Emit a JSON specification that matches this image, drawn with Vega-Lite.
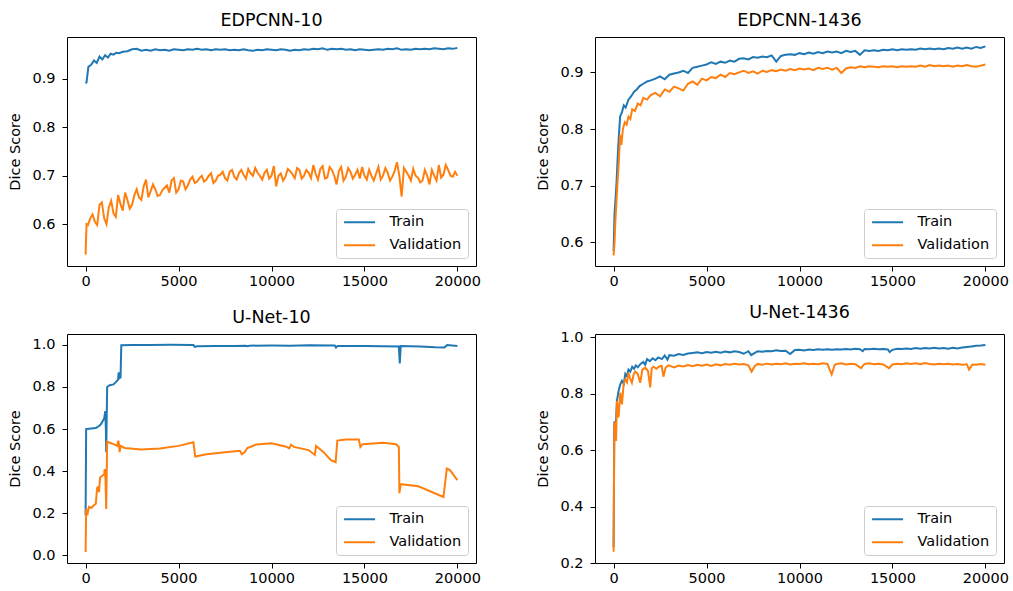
{
"$schema":"https://vega.github.io/schema/vega-lite/v6.json",
"padding":{"left":7,"top":11,"right":5,"bottom":5},
"columns":2,
"spacing":{"row":68,"column":119},
"bounds":"flush",
"resolve":{"scale":{"color":"independent"},"legend":{"color":"independent"}},
"datasets":{
"p1":[
{"step":0,"set":"Train","dice":0.891},{"step":50,"set":"Train","dice":0.893},{"step":150,"set":"Train","dice":0.925},{"step":300,"set":"Train","dice":0.929},{"step":450,"set":"Train","dice":0.938},{"step":600,"set":"Train","dice":0.933},{"step":750,"set":"Train","dice":0.946},{"step":900,"set":"Train","dice":0.940},{"step":1050,"set":"Train","dice":0.949},{"step":1200,"set":"Train","dice":0.944},{"step":1350,"set":"Train","dice":0.952},{"step":1500,"set":"Train","dice":0.950},{"step":1650,"set":"Train","dice":0.954},{"step":1800,"set":"Train","dice":0.953},{"step":2000,"set":"Train","dice":0.956},{"step":2250,"set":"Train","dice":0.957},{"step":2500,"set":"Train","dice":0.961},{"step":2750,"set":"Train","dice":0.962},{"step":3000,"set":"Train","dice":0.958},{"step":3250,"set":"Train","dice":0.960},{"step":3500,"set":"Train","dice":0.958},{"step":3750,"set":"Train","dice":0.961},{"step":4000,"set":"Train","dice":0.959},{"step":4250,"set":"Train","dice":0.960},{"step":4500,"set":"Train","dice":0.958},{"step":4750,"set":"Train","dice":0.961},{"step":5000,"set":"Train","dice":0.960},{"step":5250,"set":"Train","dice":0.959},{"step":5500,"set":"Train","dice":0.961},{"step":5750,"set":"Train","dice":0.960},{"step":6000,"set":"Train","dice":0.962},{"step":6250,"set":"Train","dice":0.960},{"step":6500,"set":"Train","dice":0.961},{"step":6750,"set":"Train","dice":0.959},{"step":7000,"set":"Train","dice":0.961},{"step":7250,"set":"Train","dice":0.960},{"step":7500,"set":"Train","dice":0.961},{"step":7750,"set":"Train","dice":0.959},{"step":8000,"set":"Train","dice":0.960},{"step":8250,"set":"Train","dice":0.959},{"step":8500,"set":"Train","dice":0.961},{"step":8750,"set":"Train","dice":0.959},{"step":9000,"set":"Train","dice":0.958},{"step":9250,"set":"Train","dice":0.960},{"step":9500,"set":"Train","dice":0.959},{"step":9750,"set":"Train","dice":0.961},{"step":10000,"set":"Train","dice":0.960},{"step":10250,"set":"Train","dice":0.959},{"step":10500,"set":"Train","dice":0.961},{"step":10750,"set":"Train","dice":0.960},{"step":11000,"set":"Train","dice":0.958},{"step":11250,"set":"Train","dice":0.960},{"step":11500,"set":"Train","dice":0.959},{"step":11750,"set":"Train","dice":0.961},{"step":12000,"set":"Train","dice":0.960},{"step":12250,"set":"Train","dice":0.962},{"step":12500,"set":"Train","dice":0.961},{"step":12750,"set":"Train","dice":0.963},{"step":13000,"set":"Train","dice":0.960},{"step":13250,"set":"Train","dice":0.962},{"step":13500,"set":"Train","dice":0.961},{"step":13750,"set":"Train","dice":0.962},{"step":14000,"set":"Train","dice":0.960},{"step":14250,"set":"Train","dice":0.961},{"step":14500,"set":"Train","dice":0.959},{"step":14750,"set":"Train","dice":0.961},{"step":15000,"set":"Train","dice":0.960},{"step":15250,"set":"Train","dice":0.959},{"step":15500,"set":"Train","dice":0.960},{"step":15750,"set":"Train","dice":0.961},{"step":16000,"set":"Train","dice":0.960},{"step":16250,"set":"Train","dice":0.962},{"step":16500,"set":"Train","dice":0.961},{"step":16750,"set":"Train","dice":0.963},{"step":17000,"set":"Train","dice":0.960},{"step":17250,"set":"Train","dice":0.961},{"step":17500,"set":"Train","dice":0.960},{"step":17750,"set":"Train","dice":0.962},{"step":18000,"set":"Train","dice":0.961},{"step":18250,"set":"Train","dice":0.962},{"step":18500,"set":"Train","dice":0.961},{"step":18750,"set":"Train","dice":0.963},{"step":19000,"set":"Train","dice":0.962},{"step":19250,"set":"Train","dice":0.961},{"step":19500,"set":"Train","dice":0.963},{"step":19750,"set":"Train","dice":0.962},{"step":20000,"set":"Train","dice":0.964},
{"step":0,"set":"Validation","dice":0.537},{"step":50,"set":"Validation","dice":0.600},{"step":250,"set":"Validation","dice":0.612},{"step":500,"set":"Validation","dice":0.605},{"step":750,"set":"Validation","dice":0.640},{"step":1000,"set":"Validation","dice":0.612},{"step":1250,"set":"Validation","dice":0.635},{"step":1500,"set":"Validation","dice":0.622},{"step":1750,"set":"Validation","dice":0.660},{"step":2000,"set":"Validation","dice":0.628},{"step":2250,"set":"Validation","dice":0.650},{"step":2500,"set":"Validation","dice":0.640},{"step":2750,"set":"Validation","dice":0.672},{"step":3000,"set":"Validation","dice":0.650},{"step":3250,"set":"Validation","dice":0.692},{"step":3500,"set":"Validation","dice":0.668},{"step":3750,"set":"Validation","dice":0.672},{"step":4000,"set":"Validation","dice":0.660},{"step":4250,"set":"Validation","dice":0.675},{"step":4500,"set":"Validation","dice":0.665},{"step":4750,"set":"Validation","dice":0.695},{"step":5000,"set":"Validation","dice":0.672},{"step":5250,"set":"Validation","dice":0.688},{"step":5500,"set":"Validation","dice":0.680},{"step":5750,"set":"Validation","dice":0.698},{"step":6000,"set":"Validation","dice":0.688},{"step":6250,"set":"Validation","dice":0.700},{"step":6500,"set":"Validation","dice":0.692},{"step":6750,"set":"Validation","dice":0.705},{"step":7000,"set":"Validation","dice":0.690},{"step":7250,"set":"Validation","dice":0.702},{"step":7500,"set":"Validation","dice":0.695},{"step":7750,"set":"Validation","dice":0.708},{"step":8000,"set":"Validation","dice":0.698},{"step":8250,"set":"Validation","dice":0.705},{"step":8500,"set":"Validation","dice":0.702},{"step":8750,"set":"Validation","dice":0.714},{"step":9000,"set":"Validation","dice":0.700},{"step":9250,"set":"Validation","dice":0.706},{"step":9500,"set":"Validation","dice":0.692},{"step":9750,"set":"Validation","dice":0.712},{"step":10000,"set":"Validation","dice":0.700},{"step":10250,"set":"Validation","dice":0.678},{"step":10500,"set":"Validation","dice":0.705},{"step":10750,"set":"Validation","dice":0.698},{"step":11000,"set":"Validation","dice":0.710},{"step":11250,"set":"Validation","dice":0.695},{"step":11500,"set":"Validation","dice":0.712},{"step":11750,"set":"Validation","dice":0.700},{"step":12000,"set":"Validation","dice":0.706},{"step":12250,"set":"Validation","dice":0.722},{"step":12500,"set":"Validation","dice":0.692},{"step":12750,"set":"Validation","dice":0.720},{"step":13000,"set":"Validation","dice":0.696},{"step":13250,"set":"Validation","dice":0.712},{"step":13500,"set":"Validation","dice":0.682},{"step":13750,"set":"Validation","dice":0.718},{"step":14000,"set":"Validation","dice":0.698},{"step":14250,"set":"Validation","dice":0.708},{"step":14500,"set":"Validation","dice":0.702},{"step":14750,"set":"Validation","dice":0.694},{"step":15000,"set":"Validation","dice":0.700},{"step":15250,"set":"Validation","dice":0.712},{"step":15500,"set":"Validation","dice":0.690},{"step":15750,"set":"Validation","dice":0.718},{"step":16000,"set":"Validation","dice":0.700},{"step":16250,"set":"Validation","dice":0.706},{"step":16500,"set":"Validation","dice":0.698},{"step":16750,"set":"Validation","dice":0.728},{"step":17000,"set":"Validation","dice":0.657},{"step":17250,"set":"Validation","dice":0.708},{"step":17500,"set":"Validation","dice":0.690},{"step":17750,"set":"Validation","dice":0.700},{"step":18000,"set":"Validation","dice":0.686},{"step":18250,"set":"Validation","dice":0.712},{"step":18500,"set":"Validation","dice":0.682},{"step":18750,"set":"Validation","dice":0.700},{"step":19000,"set":"Validation","dice":0.722},{"step":19250,"set":"Validation","dice":0.702},{"step":19500,"set":"Validation","dice":0.712},{"step":19750,"set":"Validation","dice":0.698},{"step":20000,"set":"Validation","dice":0.700},
{"step":125,"set":"Validation","dice":0.598},{"step":375,"set":"Validation","dice":0.620},{"step":625,"set":"Validation","dice":0.598},{"step":875,"set":"Validation","dice":0.645},{"step":1125,"set":"Validation","dice":0.600},{"step":1375,"set":"Validation","dice":0.648},{"step":1625,"set":"Validation","dice":0.615},{"step":1875,"set":"Validation","dice":0.642},{"step":2125,"set":"Validation","dice":0.665},{"step":2375,"set":"Validation","dice":0.632},{"step":2625,"set":"Validation","dice":0.660},{"step":2875,"set":"Validation","dice":0.655},{"step":3125,"set":"Validation","dice":0.678},{"step":3375,"set":"Validation","dice":0.655},{"step":3625,"set":"Validation","dice":0.682},{"step":3875,"set":"Validation","dice":0.658},{"step":4125,"set":"Validation","dice":0.670},{"step":4375,"set":"Validation","dice":0.680},{"step":4625,"set":"Validation","dice":0.690},{"step":4875,"set":"Validation","dice":0.665},{"step":5125,"set":"Validation","dice":0.690},{"step":5375,"set":"Validation","dice":0.672},{"step":5625,"set":"Validation","dice":0.692},{"step":5875,"set":"Validation","dice":0.685},{"step":6125,"set":"Validation","dice":0.695},{"step":6375,"set":"Validation","dice":0.688},{"step":6625,"set":"Validation","dice":0.700},{"step":6875,"set":"Validation","dice":0.685},{"step":7125,"set":"Validation","dice":0.700},{"step":7375,"set":"Validation","dice":0.708},{"step":7625,"set":"Validation","dice":0.690},{"step":7875,"set":"Validation","dice":0.712},{"step":8125,"set":"Validation","dice":0.692},{"step":8375,"set":"Validation","dice":0.712},{"step":8625,"set":"Validation","dice":0.694},{"step":8875,"set":"Validation","dice":0.705},{"step":9125,"set":"Validation","dice":0.716},{"step":9375,"set":"Validation","dice":0.700},{"step":9625,"set":"Validation","dice":0.706},{"step":9875,"set":"Validation","dice":0.694},{"step":10125,"set":"Validation","dice":0.720},{"step":10375,"set":"Validation","dice":0.700},{"step":10625,"set":"Validation","dice":0.690},{"step":10875,"set":"Validation","dice":0.714},{"step":11125,"set":"Validation","dice":0.703},{"step":11375,"set":"Validation","dice":0.716},{"step":11625,"set":"Validation","dice":0.694},{"step":11875,"set":"Validation","dice":0.712},{"step":12125,"set":"Validation","dice":0.695},{"step":12375,"set":"Validation","dice":0.704},{"step":12625,"set":"Validation","dice":0.714},{"step":12875,"set":"Validation","dice":0.694},{"step":13125,"set":"Validation","dice":0.718},{"step":13375,"set":"Validation","dice":0.700},{"step":13625,"set":"Validation","dice":0.710},{"step":13875,"set":"Validation","dice":0.690},{"step":14125,"set":"Validation","dice":0.716},{"step":14375,"set":"Validation","dice":0.694},{"step":14625,"set":"Validation","dice":0.712},{"step":14875,"set":"Validation","dice":0.718},{"step":15125,"set":"Validation","dice":0.692},{"step":15375,"set":"Validation","dice":0.700},{"step":15625,"set":"Validation","dice":0.704},{"step":15875,"set":"Validation","dice":0.692},{"step":16125,"set":"Validation","dice":0.716},{"step":16375,"set":"Validation","dice":0.690},{"step":16625,"set":"Validation","dice":0.710},{"step":16875,"set":"Validation","dice":0.700},{"step":17125,"set":"Validation","dice":0.716},{"step":17375,"set":"Validation","dice":0.700},{"step":17625,"set":"Validation","dice":0.714},{"step":17875,"set":"Validation","dice":0.696},{"step":18125,"set":"Validation","dice":0.690},{"step":18375,"set":"Validation","dice":0.700},{"step":18625,"set":"Validation","dice":0.712},{"step":18875,"set":"Validation","dice":0.690},{"step":19125,"set":"Validation","dice":0.696},{"step":19375,"set":"Validation","dice":0.722},{"step":19625,"set":"Validation","dice":0.700},{"step":19875,"set":"Validation","dice":0.708}
],
"p2":[
{"step":0,"set":"Train","dice":0.585},{"step":50,"set":"Train","dice":0.650},{"step":150,"set":"Train","dice":0.700},{"step":250,"set":"Train","dice":0.770},{"step":350,"set":"Train","dice":0.822},{"step":450,"set":"Train","dice":0.830},{"step":550,"set":"Train","dice":0.842},{"step":650,"set":"Train","dice":0.838},{"step":800,"set":"Train","dice":0.852},{"step":950,"set":"Train","dice":0.858},{"step":1100,"set":"Train","dice":0.866},{"step":1250,"set":"Train","dice":0.870},{"step":1400,"set":"Train","dice":0.876},{"step":1600,"set":"Train","dice":0.880},{"step":1800,"set":"Train","dice":0.884},{"step":2000,"set":"Train","dice":0.886},{"step":2250,"set":"Train","dice":0.889},{"step":2500,"set":"Train","dice":0.893},{"step":2750,"set":"Train","dice":0.888},{"step":3000,"set":"Train","dice":0.896},{"step":3250,"set":"Train","dice":0.898},{"step":3500,"set":"Train","dice":0.900},{"step":3750,"set":"Train","dice":0.903},{"step":4000,"set":"Train","dice":0.899},{"step":4250,"set":"Train","dice":0.908},{"step":4500,"set":"Train","dice":0.910},{"step":4750,"set":"Train","dice":0.912},{"step":5000,"set":"Train","dice":0.914},{"step":5250,"set":"Train","dice":0.918},{"step":5500,"set":"Train","dice":0.915},{"step":5750,"set":"Train","dice":0.919},{"step":6000,"set":"Train","dice":0.917},{"step":6250,"set":"Train","dice":0.921},{"step":6500,"set":"Train","dice":0.919},{"step":6750,"set":"Train","dice":0.924},{"step":7000,"set":"Train","dice":0.925},{"step":7250,"set":"Train","dice":0.923},{"step":7500,"set":"Train","dice":0.927},{"step":7750,"set":"Train","dice":0.926},{"step":8000,"set":"Train","dice":0.928},{"step":8250,"set":"Train","dice":0.927},{"step":8500,"set":"Train","dice":0.930},{"step":8750,"set":"Train","dice":0.919},{"step":9000,"set":"Train","dice":0.929},{"step":9250,"set":"Train","dice":0.931},{"step":9500,"set":"Train","dice":0.932},{"step":9750,"set":"Train","dice":0.931},{"step":10000,"set":"Train","dice":0.934},{"step":10250,"set":"Train","dice":0.932},{"step":10500,"set":"Train","dice":0.935},{"step":10750,"set":"Train","dice":0.933},{"step":11000,"set":"Train","dice":0.936},{"step":11250,"set":"Train","dice":0.934},{"step":11500,"set":"Train","dice":0.937},{"step":11750,"set":"Train","dice":0.935},{"step":12000,"set":"Train","dice":0.937},{"step":12250,"set":"Train","dice":0.934},{"step":12500,"set":"Train","dice":0.938},{"step":12750,"set":"Train","dice":0.936},{"step":13000,"set":"Train","dice":0.938},{"step":13250,"set":"Train","dice":0.931},{"step":13500,"set":"Train","dice":0.939},{"step":13750,"set":"Train","dice":0.938},{"step":14000,"set":"Train","dice":0.939},{"step":14250,"set":"Train","dice":0.938},{"step":14500,"set":"Train","dice":0.940},{"step":14750,"set":"Train","dice":0.939},{"step":15000,"set":"Train","dice":0.941},{"step":15250,"set":"Train","dice":0.939},{"step":15500,"set":"Train","dice":0.941},{"step":15750,"set":"Train","dice":0.940},{"step":16000,"set":"Train","dice":0.941},{"step":16250,"set":"Train","dice":0.940},{"step":16500,"set":"Train","dice":0.942},{"step":16750,"set":"Train","dice":0.941},{"step":17000,"set":"Train","dice":0.942},{"step":17250,"set":"Train","dice":0.941},{"step":17500,"set":"Train","dice":0.942},{"step":17750,"set":"Train","dice":0.941},{"step":18000,"set":"Train","dice":0.943},{"step":18250,"set":"Train","dice":0.942},{"step":18500,"set":"Train","dice":0.944},{"step":18750,"set":"Train","dice":0.942},{"step":19000,"set":"Train","dice":0.944},{"step":19250,"set":"Train","dice":0.942},{"step":19500,"set":"Train","dice":0.945},{"step":19750,"set":"Train","dice":0.943},{"step":20000,"set":"Train","dice":0.946},
{"step":0,"set":"Validation","dice":0.577},{"step":50,"set":"Validation","dice":0.600},{"step":100,"set":"Validation","dice":0.640},{"step":200,"set":"Validation","dice":0.700},{"step":280,"set":"Validation","dice":0.742},{"step":350,"set":"Validation","dice":0.790},{"step":420,"set":"Validation","dice":0.772},{"step":500,"set":"Validation","dice":0.800},{"step":600,"set":"Validation","dice":0.812},{"step":700,"set":"Validation","dice":0.808},{"step":800,"set":"Validation","dice":0.822},{"step":900,"set":"Validation","dice":0.818},{"step":1000,"set":"Validation","dice":0.835},{"step":1150,"set":"Validation","dice":0.832},{"step":1300,"set":"Validation","dice":0.845},{"step":1450,"set":"Validation","dice":0.842},{"step":1600,"set":"Validation","dice":0.855},{"step":1800,"set":"Validation","dice":0.852},{"step":2000,"set":"Validation","dice":0.860},{"step":2250,"set":"Validation","dice":0.864},{"step":2500,"set":"Validation","dice":0.858},{"step":2750,"set":"Validation","dice":0.870},{"step":3000,"set":"Validation","dice":0.866},{"step":3250,"set":"Validation","dice":0.875},{"step":3500,"set":"Validation","dice":0.872},{"step":3750,"set":"Validation","dice":0.868},{"step":4000,"set":"Validation","dice":0.880},{"step":4250,"set":"Validation","dice":0.884},{"step":4500,"set":"Validation","dice":0.878},{"step":4750,"set":"Validation","dice":0.889},{"step":5000,"set":"Validation","dice":0.886},{"step":5250,"set":"Validation","dice":0.892},{"step":5500,"set":"Validation","dice":0.890},{"step":5750,"set":"Validation","dice":0.896},{"step":6000,"set":"Validation","dice":0.892},{"step":6250,"set":"Validation","dice":0.899},{"step":6500,"set":"Validation","dice":0.897},{"step":6750,"set":"Validation","dice":0.900},{"step":7000,"set":"Validation","dice":0.903},{"step":7250,"set":"Validation","dice":0.899},{"step":7500,"set":"Validation","dice":0.902},{"step":7750,"set":"Validation","dice":0.898},{"step":8000,"set":"Validation","dice":0.903},{"step":8250,"set":"Validation","dice":0.901},{"step":8500,"set":"Validation","dice":0.904},{"step":8750,"set":"Validation","dice":0.902},{"step":9000,"set":"Validation","dice":0.905},{"step":9250,"set":"Validation","dice":0.903},{"step":9500,"set":"Validation","dice":0.906},{"step":9750,"set":"Validation","dice":0.904},{"step":10000,"set":"Validation","dice":0.907},{"step":10250,"set":"Validation","dice":0.905},{"step":10500,"set":"Validation","dice":0.907},{"step":10750,"set":"Validation","dice":0.904},{"step":11000,"set":"Validation","dice":0.908},{"step":11250,"set":"Validation","dice":0.906},{"step":11500,"set":"Validation","dice":0.908},{"step":11750,"set":"Validation","dice":0.905},{"step":12000,"set":"Validation","dice":0.908},{"step":12250,"set":"Validation","dice":0.899},{"step":12500,"set":"Validation","dice":0.907},{"step":12750,"set":"Validation","dice":0.909},{"step":13000,"set":"Validation","dice":0.908},{"step":13250,"set":"Validation","dice":0.911},{"step":13500,"set":"Validation","dice":0.909},{"step":13750,"set":"Validation","dice":0.911},{"step":14000,"set":"Validation","dice":0.910},{"step":14250,"set":"Validation","dice":0.909},{"step":14500,"set":"Validation","dice":0.911},{"step":14750,"set":"Validation","dice":0.910},{"step":15000,"set":"Validation","dice":0.911},{"step":15250,"set":"Validation","dice":0.909},{"step":15500,"set":"Validation","dice":0.911},{"step":15750,"set":"Validation","dice":0.910},{"step":16000,"set":"Validation","dice":0.911},{"step":16250,"set":"Validation","dice":0.910},{"step":16500,"set":"Validation","dice":0.912},{"step":16750,"set":"Validation","dice":0.910},{"step":17000,"set":"Validation","dice":0.913},{"step":17250,"set":"Validation","dice":0.911},{"step":17500,"set":"Validation","dice":0.912},{"step":17750,"set":"Validation","dice":0.911},{"step":18000,"set":"Validation","dice":0.912},{"step":18250,"set":"Validation","dice":0.910},{"step":18500,"set":"Validation","dice":0.912},{"step":18750,"set":"Validation","dice":0.911},{"step":19000,"set":"Validation","dice":0.913},{"step":19250,"set":"Validation","dice":0.911},{"step":19500,"set":"Validation","dice":0.910},{"step":19750,"set":"Validation","dice":0.912},{"step":20000,"set":"Validation","dice":0.914}
],
"p3":[
{"step":0,"set":"Train","dice":0.19},{"step":30,"set":"Train","dice":0.60},{"step":300,"set":"Train","dice":0.603},{"step":550,"set":"Train","dice":0.605},{"step":700,"set":"Train","dice":0.613},{"step":800,"set":"Train","dice":0.620},{"step":900,"set":"Train","dice":0.635},{"step":1000,"set":"Train","dice":0.650},{"step":1060,"set":"Train","dice":0.685},{"step":1090,"set":"Train","dice":0.60},{"step":1110,"set":"Train","dice":0.49},{"step":1160,"set":"Train","dice":0.80},{"step":1300,"set":"Train","dice":0.808},{"step":1500,"set":"Train","dice":0.812},{"step":1650,"set":"Train","dice":0.825},{"step":1750,"set":"Train","dice":0.835},{"step":1780,"set":"Train","dice":0.87},{"step":1800,"set":"Train","dice":0.84},{"step":1880,"set":"Train","dice":0.845},{"step":1920,"set":"Train","dice":0.998},{"step":2500,"set":"Train","dice":0.999},{"step":3500,"set":"Train","dice":0.999},{"step":4500,"set":"Train","dice":1.0},{"step":5800,"set":"Train","dice":0.999},{"step":5880,"set":"Train","dice":0.99},{"step":6000,"set":"Train","dice":0.993},{"step":7000,"set":"Train","dice":0.994},{"step":8000,"set":"Train","dice":0.995},{"step":8600,"set":"Train","dice":0.996},{"step":8700,"set":"Train","dice":0.993},{"step":8800,"set":"Train","dice":0.996},{"step":10000,"set":"Train","dice":0.997},{"step":11000,"set":"Train","dice":0.996},{"step":12000,"set":"Train","dice":0.998},{"step":13400,"set":"Train","dice":0.997},{"step":13470,"set":"Train","dice":0.987},{"step":13550,"set":"Train","dice":0.995},{"step":15000,"set":"Train","dice":0.994},{"step":16000,"set":"Train","dice":0.993},{"step":16850,"set":"Train","dice":0.992},{"step":16900,"set":"Train","dice":0.912},{"step":16950,"set":"Train","dice":0.994},{"step":18000,"set":"Train","dice":0.992},{"step":18800,"set":"Train","dice":0.988},{"step":19300,"set":"Train","dice":0.987},{"step":19450,"set":"Train","dice":0.999},{"step":20000,"set":"Train","dice":0.995},
{"step":0,"set":"Validation","dice":0.016},{"step":30,"set":"Validation","dice":0.22},{"step":90,"set":"Validation","dice":0.19},{"step":180,"set":"Validation","dice":0.23},{"step":300,"set":"Validation","dice":0.225},{"step":450,"set":"Validation","dice":0.238},{"step":550,"set":"Validation","dice":0.245},{"step":620,"set":"Validation","dice":0.32},{"step":680,"set":"Validation","dice":0.325},{"step":720,"set":"Validation","dice":0.30},{"step":780,"set":"Validation","dice":0.37},{"step":900,"set":"Validation","dice":0.378},{"step":1000,"set":"Validation","dice":0.385},{"step":1030,"set":"Validation","dice":0.41},{"step":1070,"set":"Validation","dice":0.36},{"step":1110,"set":"Validation","dice":0.22},{"step":1160,"set":"Validation","dice":0.54},{"step":1300,"set":"Validation","dice":0.535},{"step":1500,"set":"Validation","dice":0.528},{"step":1700,"set":"Validation","dice":0.52},{"step":1760,"set":"Validation","dice":0.545},{"step":1800,"set":"Validation","dice":0.525},{"step":1830,"set":"Validation","dice":0.49},{"step":1880,"set":"Validation","dice":0.52},{"step":2100,"set":"Validation","dice":0.51},{"step":3000,"set":"Validation","dice":0.503},{"step":4000,"set":"Validation","dice":0.508},{"step":5000,"set":"Validation","dice":0.52},{"step":5800,"set":"Validation","dice":0.537},{"step":5900,"set":"Validation","dice":0.469},{"step":6500,"set":"Validation","dice":0.48},{"step":7500,"set":"Validation","dice":0.49},{"step":8300,"set":"Validation","dice":0.497},{"step":8400,"set":"Validation","dice":0.48},{"step":8550,"set":"Validation","dice":0.49},{"step":8700,"set":"Validation","dice":0.51},{"step":9200,"set":"Validation","dice":0.527},{"step":10000,"set":"Validation","dice":0.532},{"step":10800,"set":"Validation","dice":0.516},{"step":10950,"set":"Validation","dice":0.508},{"step":11050,"set":"Validation","dice":0.525},{"step":11200,"set":"Validation","dice":0.515},{"step":12000,"set":"Validation","dice":0.50},{"step":12330,"set":"Validation","dice":0.477},{"step":12400,"set":"Validation","dice":0.52},{"step":12800,"set":"Validation","dice":0.49},{"step":13200,"set":"Validation","dice":0.452},{"step":13450,"set":"Validation","dice":0.442},{"step":13540,"set":"Validation","dice":0.545},{"step":14000,"set":"Validation","dice":0.55},{"step":14700,"set":"Validation","dice":0.55},{"step":14780,"set":"Validation","dice":0.515},{"step":14900,"set":"Validation","dice":0.528},{"step":16000,"set":"Validation","dice":0.535},{"step":16700,"set":"Validation","dice":0.528},{"step":16850,"set":"Validation","dice":0.515},{"step":16880,"set":"Validation","dice":0.295},{"step":16950,"set":"Validation","dice":0.338},{"step":17900,"set":"Validation","dice":0.328},{"step":19250,"set":"Validation","dice":0.277},{"step":19430,"set":"Validation","dice":0.412},{"step":19600,"set":"Validation","dice":0.405},{"step":20000,"set":"Validation","dice":0.357}
],
"p4":[
{"step":0,"set":"Train","dice":0.257},{"step":40,"set":"Train","dice":0.698},{"step":130,"set":"Train","dice":0.702},{"step":180,"set":"Train","dice":0.774},{"step":270,"set":"Train","dice":0.81},{"step":360,"set":"Train","dice":0.833},{"step":450,"set":"Train","dice":0.845},{"step":550,"set":"Train","dice":0.835},{"step":630,"set":"Train","dice":0.87},{"step":720,"set":"Train","dice":0.862},{"step":800,"set":"Train","dice":0.885},{"step":900,"set":"Train","dice":0.878},{"step":1000,"set":"Train","dice":0.895},{"step":1100,"set":"Train","dice":0.888},{"step":1200,"set":"Train","dice":0.900},{"step":1300,"set":"Train","dice":0.893},{"step":1450,"set":"Train","dice":0.905},{"step":1600,"set":"Train","dice":0.912},{"step":1700,"set":"Train","dice":0.902},{"step":1800,"set":"Train","dice":0.922},{"step":1950,"set":"Train","dice":0.915},{"step":2100,"set":"Train","dice":0.925},{"step":2250,"set":"Train","dice":0.918},{"step":2400,"set":"Train","dice":0.928},{"step":2600,"set":"Train","dice":0.922},{"step":2750,"set":"Train","dice":0.935},{"step":2900,"set":"Train","dice":0.920},{"step":3000,"set":"Train","dice":0.936},{"step":3250,"set":"Train","dice":0.934},{"step":3500,"set":"Train","dice":0.940},{"step":3750,"set":"Train","dice":0.937},{"step":4000,"set":"Train","dice":0.942},{"step":4250,"set":"Train","dice":0.944},{"step":4500,"set":"Train","dice":0.946},{"step":4750,"set":"Train","dice":0.943},{"step":5000,"set":"Train","dice":0.947},{"step":5250,"set":"Train","dice":0.945},{"step":5500,"set":"Train","dice":0.948},{"step":5750,"set":"Train","dice":0.945},{"step":6000,"set":"Train","dice":0.949},{"step":6250,"set":"Train","dice":0.946},{"step":6500,"set":"Train","dice":0.950},{"step":6750,"set":"Train","dice":0.947},{"step":7000,"set":"Train","dice":0.941},{"step":7250,"set":"Train","dice":0.950},{"step":7400,"set":"Train","dice":0.936},{"step":7600,"set":"Train","dice":0.944},{"step":7750,"set":"Train","dice":0.950},{"step":8000,"set":"Train","dice":0.948},{"step":8250,"set":"Train","dice":0.951},{"step":8500,"set":"Train","dice":0.950},{"step":8750,"set":"Train","dice":0.953},{"step":9000,"set":"Train","dice":0.951},{"step":9250,"set":"Train","dice":0.952},{"step":9500,"set":"Train","dice":0.940},{"step":9750,"set":"Train","dice":0.954},{"step":10000,"set":"Train","dice":0.955},{"step":10250,"set":"Train","dice":0.953},{"step":10500,"set":"Train","dice":0.956},{"step":10750,"set":"Train","dice":0.954},{"step":11000,"set":"Train","dice":0.957},{"step":11250,"set":"Train","dice":0.955},{"step":11500,"set":"Train","dice":0.957},{"step":11750,"set":"Train","dice":0.955},{"step":12000,"set":"Train","dice":0.957},{"step":12250,"set":"Train","dice":0.956},{"step":12500,"set":"Train","dice":0.958},{"step":12750,"set":"Train","dice":0.956},{"step":13000,"set":"Train","dice":0.959},{"step":13250,"set":"Train","dice":0.957},{"step":13400,"set":"Train","dice":0.950},{"step":13500,"set":"Train","dice":0.958},{"step":13750,"set":"Train","dice":0.957},{"step":14000,"set":"Train","dice":0.959},{"step":14250,"set":"Train","dice":0.957},{"step":14500,"set":"Train","dice":0.958},{"step":14750,"set":"Train","dice":0.956},{"step":14850,"set":"Train","dice":0.947},{"step":15000,"set":"Train","dice":0.955},{"step":15250,"set":"Train","dice":0.959},{"step":15500,"set":"Train","dice":0.958},{"step":15750,"set":"Train","dice":0.960},{"step":16000,"set":"Train","dice":0.958},{"step":16250,"set":"Train","dice":0.961},{"step":16500,"set":"Train","dice":0.959},{"step":16750,"set":"Train","dice":0.961},{"step":17000,"set":"Train","dice":0.960},{"step":17250,"set":"Train","dice":0.962},{"step":17500,"set":"Train","dice":0.960},{"step":17750,"set":"Train","dice":0.961},{"step":18000,"set":"Train","dice":0.959},{"step":18250,"set":"Train","dice":0.962},{"step":18500,"set":"Train","dice":0.960},{"step":18750,"set":"Train","dice":0.963},{"step":19000,"set":"Train","dice":0.965},{"step":19250,"set":"Train","dice":0.967},{"step":19500,"set":"Train","dice":0.969},{"step":19750,"set":"Train","dice":0.970},{"step":20000,"set":"Train","dice":0.972},
{"step":0,"set":"Validation","dice":0.240},{"step":40,"set":"Validation","dice":0.690},{"step":100,"set":"Validation","dice":0.700},{"step":130,"set":"Validation","dice":0.632},{"step":180,"set":"Validation","dice":0.774},{"step":270,"set":"Validation","dice":0.716},{"step":360,"set":"Validation","dice":0.803},{"step":450,"set":"Validation","dice":0.762},{"step":540,"set":"Validation","dice":0.834},{"step":630,"set":"Validation","dice":0.850},{"step":720,"set":"Validation","dice":0.840},{"step":800,"set":"Validation","dice":0.874},{"step":880,"set":"Validation","dice":0.855},{"step":985,"set":"Validation","dice":0.838},{"step":1080,"set":"Validation","dice":0.868},{"step":1165,"set":"Validation","dice":0.878},{"step":1300,"set":"Validation","dice":0.870},{"step":1430,"set":"Validation","dice":0.838},{"step":1550,"set":"Validation","dice":0.885},{"step":1700,"set":"Validation","dice":0.892},{"step":1850,"set":"Validation","dice":0.880},{"step":1970,"set":"Validation","dice":0.822},{"step":2050,"set":"Validation","dice":0.890},{"step":2150,"set":"Validation","dice":0.895},{"step":2300,"set":"Validation","dice":0.888},{"step":2450,"set":"Validation","dice":0.896},{"step":2590,"set":"Validation","dice":0.898},{"step":2680,"set":"Validation","dice":0.860},{"step":2800,"set":"Validation","dice":0.892},{"step":2950,"set":"Validation","dice":0.900},{"step":3250,"set":"Validation","dice":0.893},{"step":3500,"set":"Validation","dice":0.899},{"step":3750,"set":"Validation","dice":0.896},{"step":4000,"set":"Validation","dice":0.901},{"step":4250,"set":"Validation","dice":0.897},{"step":4500,"set":"Validation","dice":0.902},{"step":4750,"set":"Validation","dice":0.899},{"step":5000,"set":"Validation","dice":0.903},{"step":5250,"set":"Validation","dice":0.898},{"step":5500,"set":"Validation","dice":0.904},{"step":5750,"set":"Validation","dice":0.900},{"step":6000,"set":"Validation","dice":0.905},{"step":6250,"set":"Validation","dice":0.902},{"step":6500,"set":"Validation","dice":0.906},{"step":6750,"set":"Validation","dice":0.903},{"step":7000,"set":"Validation","dice":0.905},{"step":7250,"set":"Validation","dice":0.900},{"step":7420,"set":"Validation","dice":0.878},{"step":7600,"set":"Validation","dice":0.898},{"step":7750,"set":"Validation","dice":0.905},{"step":8000,"set":"Validation","dice":0.902},{"step":8250,"set":"Validation","dice":0.906},{"step":8500,"set":"Validation","dice":0.903},{"step":8750,"set":"Validation","dice":0.906},{"step":9000,"set":"Validation","dice":0.904},{"step":9250,"set":"Validation","dice":0.907},{"step":9500,"set":"Validation","dice":0.903},{"step":9750,"set":"Validation","dice":0.906},{"step":10000,"set":"Validation","dice":0.905},{"step":10250,"set":"Validation","dice":0.907},{"step":10500,"set":"Validation","dice":0.904},{"step":10750,"set":"Validation","dice":0.906},{"step":11000,"set":"Validation","dice":0.904},{"step":11250,"set":"Validation","dice":0.907},{"step":11500,"set":"Validation","dice":0.905},{"step":11730,"set":"Validation","dice":0.868},{"step":11900,"set":"Validation","dice":0.902},{"step":12000,"set":"Validation","dice":0.905},{"step":12250,"set":"Validation","dice":0.907},{"step":12500,"set":"Validation","dice":0.903},{"step":12750,"set":"Validation","dice":0.906},{"step":13000,"set":"Validation","dice":0.904},{"step":13310,"set":"Validation","dice":0.890},{"step":13500,"set":"Validation","dice":0.905},{"step":13750,"set":"Validation","dice":0.907},{"step":14000,"set":"Validation","dice":0.904},{"step":14250,"set":"Validation","dice":0.906},{"step":14500,"set":"Validation","dice":0.903},{"step":14820,"set":"Validation","dice":0.890},{"step":15000,"set":"Validation","dice":0.903},{"step":15250,"set":"Validation","dice":0.906},{"step":15500,"set":"Validation","dice":0.904},{"step":15750,"set":"Validation","dice":0.907},{"step":16000,"set":"Validation","dice":0.905},{"step":16250,"set":"Validation","dice":0.907},{"step":16500,"set":"Validation","dice":0.904},{"step":16750,"set":"Validation","dice":0.908},{"step":17000,"set":"Validation","dice":0.905},{"step":17250,"set":"Validation","dice":0.903},{"step":17500,"set":"Validation","dice":0.906},{"step":17750,"set":"Validation","dice":0.904},{"step":18000,"set":"Validation","dice":0.906},{"step":18250,"set":"Validation","dice":0.903},{"step":18500,"set":"Validation","dice":0.905},{"step":18750,"set":"Validation","dice":0.902},{"step":19000,"set":"Validation","dice":0.904},{"step":19120,"set":"Validation","dice":0.885},{"step":19300,"set":"Validation","dice":0.903},{"step":19500,"set":"Validation","dice":0.902},{"step":19750,"set":"Validation","dice":0.905},{"step":20000,"set":"Validation","dice":0.902}
]
},
"concat":[
{"title":"EDPCNN-10","width":409,"height":229,"data":{"name":"p1"},"mark":{"type":"line","strokeWidth":2},
"encoding":{"x":{"field":"step","type":"quantitative","scale":{"domain":[-1000,21000],"nice":false,"zero":false},"axis":{"values":[0,5000,10000,15000,20000],"format":"d","title":null}},
"y":{"field":"dice","type":"quantitative","scale":{"domain":[0.5135,0.9865],"nice":false,"zero":false},"axis":{"values":[0.6,0.7,0.8,0.9],"format":".1f","title":"Dice Score"}},
"color":{"field":"set","type":"nominal","scale":{"domain":["Train","Validation"],"range":["#1f77b4","#ff7f0e"]},"legend":{"title":null}}}},
{"title":"EDPCNN-1436","width":409,"height":229,"data":{"name":"p2"},"mark":{"type":"line","strokeWidth":2},
"encoding":{"x":{"field":"step","type":"quantitative","scale":{"domain":[-1000,21000],"nice":false,"zero":false},"axis":{"values":[0,5000,10000,15000,20000],"format":"d","title":null}},
"y":{"field":"dice","type":"quantitative","scale":{"domain":[0.5585,0.9625],"nice":false,"zero":false},"axis":{"values":[0.6,0.7,0.8,0.9],"format":".1f","title":"Dice Score"}},
"color":{"field":"set","type":"nominal","scale":{"domain":["Train","Validation"],"range":["#1f77b4","#ff7f0e"]},"legend":{"title":null}}}},
{"title":"U-Net-10","width":409,"height":229,"data":{"name":"p3"},"mark":{"type":"line","strokeWidth":2},
"encoding":{"x":{"field":"step","type":"quantitative","scale":{"domain":[-1000,21000],"nice":false,"zero":false},"axis":{"values":[0,5000,10000,15000,20000],"format":"d","title":null}},
"y":{"field":"dice","type":"quantitative","scale":{"domain":[-0.0365,1.0515],"nice":false,"zero":false},"axis":{"values":[0,0.2,0.4,0.6,0.8,1.0],"format":".1f","title":"Dice Score"}},
"color":{"field":"set","type":"nominal","scale":{"domain":["Train","Validation"],"range":["#1f77b4","#ff7f0e"]},"legend":{"title":null}}}},
{"title":"U-Net-1436","width":409,"height":229,"data":{"name":"p4"},"mark":{"type":"line","strokeWidth":2},
"encoding":{"x":{"field":"step","type":"quantitative","scale":{"domain":[-1000,21000],"nice":false,"zero":false},"axis":{"values":[0,5000,10000,15000,20000],"format":"d","title":null}},
"y":{"field":"dice","type":"quantitative","scale":{"domain":[0.2,1.011],"nice":false,"zero":false},"axis":{"values":[0.2,0.4,0.6,0.8,1.0],"format":".1f","title":"Dice Score"}},
"color":{"field":"set","type":"nominal","scale":{"domain":["Train","Validation"],"range":["#1f77b4","#ff7f0e"]},"legend":{"title":null}}}}
],
"config":{
"font":"DejaVu Sans",
"background":"#ffffff",
"view":{"stroke":"#000000","strokeWidth":1},
"axis":{"grid":false,"domain":false,"ticks":true,"tickColor":"#000000","tickSize":5,"tickWidth":1,"labelFont":"DejaVu Sans","labelFontSize":14.5,"labelColor":"#000000","titleFont":"DejaVu Sans","titleFontSize":14.5,"titleFontWeight":"normal","titleColor":"#000000"},
"axisX":{"labelPadding":3},
"axisY":{"labelPadding":7,"titlePadding":9},
"title":{"font":"DejaVu Sans","fontSize":17.5,"fontWeight":"normal","color":"#000000","offset":8},
"legend":{"orient":"bottom-right","offset":8,"symbolType":"M-1,0L5,0","symbolSize":107,"symbolStrokeWidth":2,"labelOffset":33,"labelFont":"DejaVu Sans","labelFontSize":14.5,"labelColor":"#000000","padding":6,"rowPadding":8,"fillColor":"rgba(255,255,255,0.8)","strokeColor":"#cccccc","cornerRadius":3,"strokeWidth":1}
}
}
